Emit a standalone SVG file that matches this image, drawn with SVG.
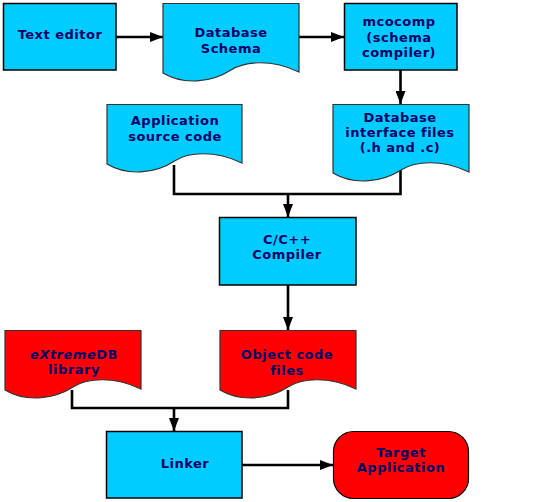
<svg xmlns="http://www.w3.org/2000/svg" width="555" height="502" viewBox="0 0 555 502">
<style>
.box{fill:#00CCFF;stroke:#000;stroke-width:1.5}
.doc{fill:#00CCFF;stroke:#333;stroke-width:1.2}
.red{fill:#FF0000}
.t{font-family:"DejaVu Sans",Verdana,sans-serif;font-weight:bold;font-size:13px;letter-spacing:0.5px;fill:#000066;text-anchor:middle}
.c{fill:none;stroke:#000;stroke-width:2.6}
</style>
<defs>
<marker id="ah" viewBox="0 0 13 10" refX="13" refY="5" markerWidth="13" markerHeight="10" markerUnits="userSpaceOnUse" orient="auto">
<path d="M0,0 L13,5 L0,10 z" fill="#000"/>
</marker>
</defs>
<rect width="555" height="502" fill="#fff"/>
<g id="connectors">
<path class="c" d="M116,37 H163" marker-end="url(#ah)"/>
<path class="c" d="M299,37 H344" marker-end="url(#ah)"/>
<path class="c" d="M400.5,70 V104" marker-end="url(#ah)"/>
<path class="c" d="M174,165 V194 H400.5 V165"/>
<path class="c" d="M288,194 V217" marker-end="url(#ah)"/>
<path class="c" d="M288,285 V330" marker-end="url(#ah)"/>
<path class="c" d="M72,390 V408 H288 V390"/>
<path class="c" d="M174,408 V431" marker-end="url(#ah)"/>
<path class="c" d="M242,465 H333" marker-end="url(#ah)"/>
</g>
<g id="text-editor">
<rect class="box" x="3.5" y="3.5" width="112.5" height="66.5"/>
<text class="t" x="60" y="39">Text editor</text>
</g>
<g id="database-schema">
<path class="doc" d="M163,3.5 H299 V72 C272,59 245,61 231,70 C211,83 183,85 163,73 Z"/>
<text class="t" x="231" y="37">Database</text>
<text class="t" x="231" y="53">Schema</text>
</g>
<g id="mcocomp">
<rect class="box" x="344.5" y="3.5" width="112.5" height="66.5"/>
<text class="t" x="399" y="26">mcocomp</text>
<text class="t" x="399" y="42">(schema</text>
<text class="t" x="399" y="57">compiler)</text>
</g>
<g id="db-interface-files">
<path class="doc" d="M333,104.5 H469 V172 C442,159 415,161 401,170 C381,183 353,185 333,173 Z"/>
<text class="t" x="400" y="122">Database</text>
<text class="t" x="400" y="137">interface files</text>
<text class="t" x="400" y="152">(.h and .c)</text>
</g>
<g id="app-source">
<path class="doc" d="M107,104.5 H242 V163 C215,150 188,152 174.5,161 C155,174 127,176 107,164 Z"/>
<text class="t" x="175" y="125">Application</text>
<text class="t" x="175" y="141">source code</text>
</g>
<g id="cpp-compiler">
<rect class="box" x="219.5" y="217.5" width="136.5" height="67.5"/>
<text class="t" x="287" y="244">C/C++</text>
<text class="t" x="287" y="259">Compiler</text>
</g>
<g id="extremedb-library">
<path class="doc red" d="M5,330.5 H141 V389 C114,376 87,378 73,387 C53,400 25,402 5,390 Z"/>
<text class="t" x="74" y="359"><tspan font-style="italic">eXtreme</tspan>DB</text>
<text class="t" x="74" y="374">library</text>
</g>
<g id="object-code-files">
<path class="doc red" d="M220,330.5 H356 V389 C329,376 302,378 288,387 C268,400 240,402 220,390 Z"/>
<text class="t" x="287" y="359">Object code</text>
<text class="t" x="287" y="375">files</text>
</g>
<g id="linker">
<rect class="box" x="106.5" y="431.5" width="135.5" height="66.5"/>
<text class="t" x="185" y="468">Linker</text>
</g>
<g id="target-application">
<rect class="doc red" style="stroke:#000" x="333.5" y="431.5" width="135" height="67" rx="20" ry="20"/>
<text class="t" x="401" y="457">Target</text>
<text class="t" x="401" y="472">Application</text>
</g>
</svg>
